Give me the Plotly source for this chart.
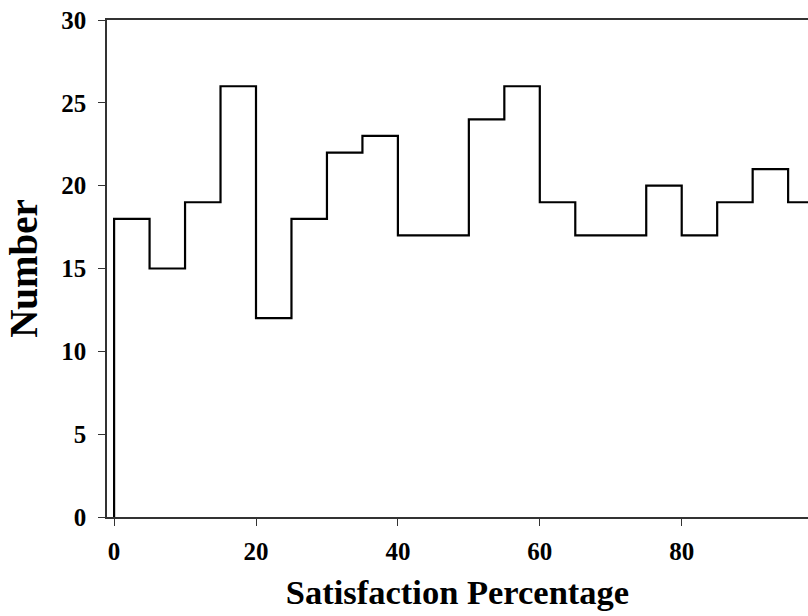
import plotly.graph_objects as go

bin_edges = [0, 5, 10, 15, 20, 25, 30, 35, 40, 45, 50, 55, 60, 65, 70, 75, 80, 85, 90, 95, 100]
counts = [18, 15, 19, 26, 12, 18, 22, 23, 17, 17, 24, 26, 19, 17, 17, 20, 17, 19, 21, 19]
x_ticks = [0, 20, 40, 60, 80]
y_ticks = [0, 5, 10, 15, 20, 25, 30]

# step outline: start at zero on the first edge, then one level per bin
xs = [bin_edges[0]] + bin_edges[:-1] + [bin_edges[-1]]
ys = [0] + counts + [counts[-1]]

font_family = "Liberation Serif, Times New Roman, serif"

fig = go.Figure()
fig.add_trace(go.Scatter(
    x=xs, y=ys, mode="lines", line_shape="hv",
    line=dict(color="black", width=2.2), showlegend=False, hoverinfo="skip",
))

fig.update_layout(
    width=808, height=616,
    margin=dict(l=107, r=0, t=20, b=99),
    paper_bgcolor="white", plot_bgcolor="white",
    font=dict(family=font_family, color="black"),
)
fig.update_xaxes(
    range=[-1.0, 97.8], tickvals=x_ticks, ticktext=[str(v) for v in x_ticks],
    showgrid=False, zeroline=False, showline=True, linecolor="#333333", linewidth=1.6,
    mirror=True, ticks="outside", ticklen=7, tickwidth=1.4, tickcolor="#333333",
    ticklabelstandoff=4,
    tickfont=dict(family=font_family, size=25, color="black", weight="bold"),
    title=dict(text="<b>Satisfaction Percentage</b>", font=dict(family=font_family, size=34.5), standoff=16),
)
fig.update_yaxes(
    range=[0, 30], tickvals=y_ticks, ticktext=[str(v) for v in y_ticks],
    showgrid=False, zeroline=False, showline=True, linecolor="#333333", linewidth=1.6,
    ticks="outside", ticklen=7, tickwidth=1.4, tickcolor="#333333",
    ticklabelstandoff=7,
    tickfont=dict(family=font_family, size=25, color="black", weight="bold"),
    title=dict(text="<b>Number</b>", font=dict(family=font_family, size=39), standoff=12),
)

fig.write_html("out.html", config={"displayModeBar": False},
               post_script="document.body.style.margin='0';document.body.style.padding='0';")
